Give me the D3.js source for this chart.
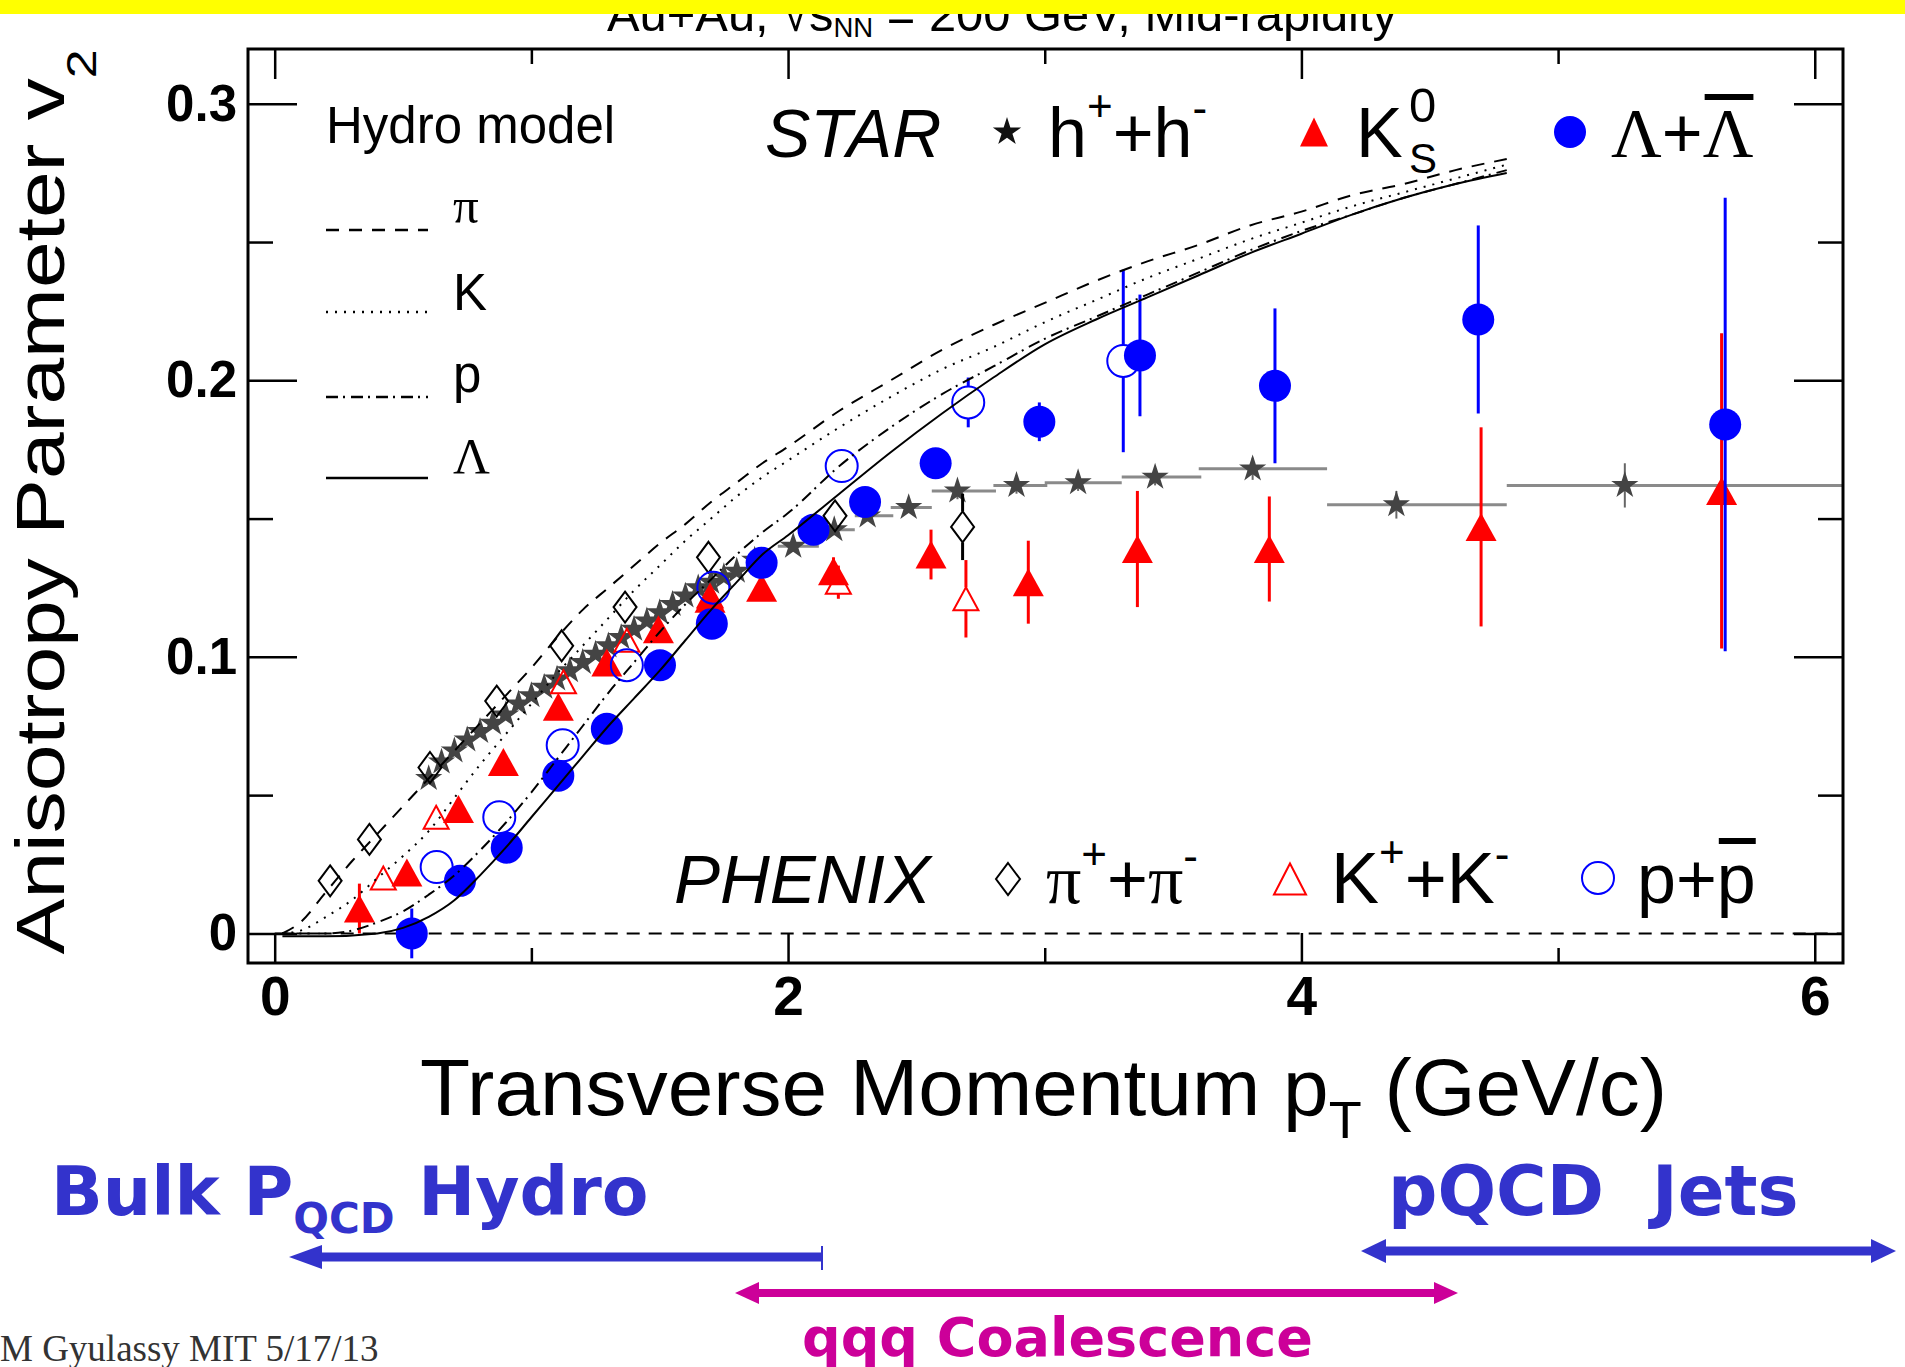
<!DOCTYPE html>
<html><head><meta charset="utf-8">
<script src="https://cdn.jsdelivr.net/npm/d3@7"></script>
<style>
html,body{margin:0;padding:0;background:#fff;}
svg{display:block;}
text{font-family:"Liberation Sans",Arial,Helvetica,sans-serif;}
</style></head><body>
<svg id="chart" width="1905" height="1367"></svg>
<script>
// ---------------- DATA ----------------
const xMajorTicks = [0, 2, 4, 6];
const xMinorTicks = [1, 3, 5];
const yMajorTicks = [0, 0.1, 0.2, 0.3];
const yMinorTicks = [0.05, 0.15, 0.25];

// Hydro model curves [pT, v2]
const hydroPi = [[0.03,0],[0.1,0.004],[0.2,0.015],[0.3,0.026],[0.4,0.036],[0.5,0.046],[0.6,0.056],[0.7,0.066],[0.8,0.076],[0.9,0.086],[1.0,0.096],[1.1,0.107],[1.2,0.117],[1.3,0.125],[1.4,0.133],[1.5,0.141],[1.6,0.148],[1.7,0.156],[1.8,0.163],[1.9,0.170],[2.0,0.176],[2.2,0.189],[2.4,0.200],[2.6,0.211],[2.8,0.220],[3.0,0.228],[3.2,0.236],[3.4,0.243],[3.6,0.249],[3.8,0.256],[4.0,0.261],[4.2,0.267],[4.4,0.271],[4.6,0.276],[4.8,0.280]];
const hydroK = [[0.03,0],[0.1,0.001],[0.2,0.006],[0.3,0.012],[0.4,0.020],[0.5,0.028],[0.6,0.037],[0.7,0.049],[0.8,0.061],[0.9,0.072],[1.0,0.083],[1.1,0.094],[1.2,0.104],[1.3,0.114],[1.4,0.124],[1.5,0.133],[1.6,0.142],[1.7,0.150],[1.8,0.158],[1.9,0.165],[2.0,0.171],[2.2,0.183],[2.4,0.194],[2.6,0.204],[2.8,0.212],[3.0,0.221],[3.2,0.229],[3.4,0.237],[3.6,0.244],[3.8,0.251],[4.0,0.257],[4.2,0.263],[4.4,0.268],[4.6,0.273],[4.8,0.278]];
const hydroP = [[0.03,0],[0.2,0.0],[0.3,0.001],[0.4,0.004],[0.5,0.008],[0.6,0.014],[0.7,0.021],[0.8,0.030],[0.9,0.040],[1.0,0.051],[1.1,0.063],[1.2,0.075],[1.3,0.087],[1.4,0.098],[1.5,0.109],[1.6,0.119],[1.7,0.128],[1.8,0.137],[1.9,0.145],[2.0,0.152],[2.2,0.169],[2.4,0.183],[2.6,0.195],[2.8,0.205],[3.0,0.215],[3.2,0.223],[3.4,0.231],[3.6,0.239],[3.8,0.247],[4.0,0.254],[4.2,0.260],[4.4,0.266],[4.6,0.271],[4.8,0.276]];
const hydroL = [[0.03,-0.001],[0.2,-0.001],[0.4,0.0],[0.5,0.002],[0.6,0.006],[0.7,0.012],[0.8,0.021],[0.9,0.031],[1.0,0.042],[1.1,0.053],[1.2,0.064],[1.3,0.075],[1.4,0.085],[1.5,0.095],[1.6,0.106],[1.7,0.117],[1.8,0.127],[1.9,0.137],[2.0,0.144],[2.2,0.159],[2.4,0.174],[2.6,0.188],[2.8,0.201],[3.0,0.213],[3.2,0.222],[3.4,0.230],[3.6,0.238],[3.8,0.246],[4.0,0.253],[4.2,0.260],[4.4,0.266],[4.6,0.271],[4.8,0.275]];

// STAR h+ + h- : dense low-pT points
const hDensePt = [0.60,0.65,0.70,0.75,0.80,0.85,0.90,0.95,1.00,1.05,1.10,1.15,1.20,1.25,1.30,1.35,1.40,1.45,1.50,1.55,1.60,1.65,1.70,1.75,1.80,1.87];
const hDenseV2 = [0.056,0.062,0.066,0.070,0.073,0.076,0.079,0.083,0.086,0.089,0.092,0.095,0.098,0.101,0.104,0.107,0.110,0.113,0.116,0.119,0.122,0.125,0.127,0.129,0.131,0.135];
// STAR h+ + h- : binned high-pT points
const hBinPt  = [2.02, 2.18, 2.31, 2.47, 2.66, 2.89, 3.13, 3.43, 3.81, 4.37, 5.26];
const hBinV2  = [0.140,0.146,0.151,0.154,0.160,0.162,0.163,0.165,0.168,0.155,0.162];
const hBinLo  = [1.96, 2.12, 2.26, 2.40, 2.56, 2.80, 3.00, 3.30, 3.60, 4.10, 4.80];
const hBinHi  = [2.12, 2.26, 2.41, 2.56, 2.81, 3.01, 3.30, 3.61, 4.10, 4.80, 6.20];
const hBinErr = [0.002,0.002,0.002,0.002,0.003,0.003,0.003,0.003,0.004,0.005,0.008];

// STAR K0S
const k0Pt  = [0.33,0.515,0.716,0.891,1.105,1.294,1.495,1.696,1.897,2.177,2.557,2.936,3.361,3.875,4.70,5.637];
const k0V2  = [0.009,0.022,0.045,0.062,0.082,0.098,0.110,0.121,0.125,0.131,0.137,0.127,0.139,0.139,0.147,0.160];
const k0Err = [0.009,0.003,0.003,0.003,0.003,0.003,0.003,0.004,0.004,0.005,0.009,0.015,0.021,0.019,0.036,0.057];

// STAR Lambda + anti-Lambda
const lamPt  = [0.534,0.722,0.904,1.105,1.294,1.501,1.703,1.897,2.099,2.30,2.575,2.979,3.371,3.897,4.689,5.651];
const lamV2  = [0.000,0.019,0.031,0.057,0.074,0.097,0.112,0.134,0.146,0.156,0.170,0.185,0.209,0.198,0.222,0.184];
const lamErr = [0.009,0.003,0.003,0.003,0.003,0.003,0.003,0.003,0.003,0.004,0.005,0.007,0.022,0.028,0.034,0.082];

// PHENIX pi+ + pi-
const piPt  = [0.216,0.369,0.605,0.865,1.118,1.365,1.69,2.183,2.68];
const piV2  = [0.019,0.034,0.060,0.084,0.104,0.118,0.136,0.151,0.147];
const piErr = [0.001,0.001,0.001,0.001,0.002,0.002,0.003,0.005,0.012];

// PHENIX K+ + K-
const kPt  = [0.423,0.629,1.125,1.372,1.696,2.196,2.693];
const kV2  = [0.020,0.042,0.091,0.106,0.122,0.127,0.121];
const kErr = [0.002,0.002,0.002,0.003,0.004,0.006,0.014];

// PHENIX p + pbar
const pPt  = [0.631,0.875,1.122,1.372,1.709,2.209,2.702,3.306];
const pV2  = [0.024,0.042,0.068,0.097,0.125,0.169,0.192,0.207];
const pErr = [0.002,0.002,0.002,0.003,0.004,0.005,0.009,0.033];

// ---------------- LAYOUT ----------------
const plot = {left:248, right:1843, top:49, bottom:963};
const x = d3.scaleLinear().domain([-0.104, 6.11]).range([plot.left, plot.right]);
const y = d3.scaleLinear().domain([-0.0107, 0.3198]).range([plot.bottom, plot.top]);

const BLUE = '#0000ff', RED = '#ff0000', STARC = '#444444';
const svg = d3.select('#chart');
svg.append('rect').attr('width',1905).attr('height',1367).attr('fill','#fff');

const defs = svg.append('defs');
defs.append('clipPath').attr('id','plotClip').append('rect')
  .attr('x',plot.left).attr('y',plot.top)
  .attr('width',plot.right-plot.left).attr('height',plot.bottom-plot.top);

// symbol types
const triType = (w,h)=>({draw(c){c.moveTo(0,-h/2);c.lineTo(w/2,h/2);c.lineTo(-w/2,h/2);c.closePath();}});
const diaType = (w,h)=>({draw(c){c.moveTo(0,-h/2);c.lineTo(w/2,0);c.lineTo(0,h/2);c.lineTo(-w/2,0);c.closePath();}});
const starSym = d3.symbol(d3.symbolStar, 230);
const starSymLeg = d3.symbol(d3.symbolStar, 250);
const triSym = d3.symbol(triType(31,28));
const triOpenSym = d3.symbol(triType(25,23));
const diaSym = d3.symbol(diaType(23,31));
const circSym = d3.symbol(d3.symbolCircle, Math.PI*16*16);
const circOpenSym = d3.symbol(d3.symbolCircle, Math.PI*16*16);

const g = svg.append('g').attr('clip-path','url(#plotClip)');

// zero line
g.append('line').attr('x1',x(0)).attr('x2',x(6.11)).attr('y1',y(0)).attr('y2',y(0))
  .attr('stroke','#000').attr('stroke-width',2).attr('stroke-dasharray','13,9');

const zip = (pt,v,e)=>pt.map((p,i)=>({pt:p, v:v[i], e:e?e[i]:0}));

// ---- STAR h+h- ----
const hBin = hBinPt.map((p,i)=>({pt:p, v:hBinV2[i], lo:hBinLo[i], hi:hBinHi[i], e:hBinErr[i]}));
g.append('g').selectAll('line').data(hBin).join('line')
  .attr('x1',d=>x(d.lo)).attr('x2',d=>x(d.hi)).attr('y1',d=>y(d.v)).attr('y2',d=>y(d.v))
  .attr('stroke','#8a8a8a').attr('stroke-width',3);
g.append('g').selectAll('line').data(hBin).join('line')
  .attr('x1',d=>x(d.pt)).attr('x2',d=>x(d.pt)).attr('y1',d=>y(d.v+d.e)).attr('y2',d=>y(d.v-d.e))
  .attr('stroke','#666').attr('stroke-width',2);
const hAll = zip(hDensePt,hDenseV2).concat(hBin);
g.append('g').selectAll('path').data(hAll).join('path')
  .attr('d',starSym()).attr('transform',d=>`translate(${x(d.pt)},${y(d.v)})`).attr('fill',STARC);

// ---- STAR K0s ----
const k0 = zip(k0Pt,k0V2,k0Err);
g.append('g').selectAll('line').data(k0).join('line')
  .attr('x1',d=>x(d.pt)).attr('x2',d=>x(d.pt)).attr('y1',d=>y(d.v+d.e)).attr('y2',d=>y(d.v-d.e))
  .attr('stroke',RED).attr('stroke-width',3);
g.append('g').selectAll('path').data(k0).join('path')
  .attr('d',triSym()).attr('transform',d=>`translate(${x(d.pt)},${y(d.v)})`).attr('fill',RED);

// ---- STAR Lambda ----
const lam = zip(lamPt,lamV2,lamErr);
g.append('g').selectAll('line').data(lam).join('line')
  .attr('x1',d=>x(d.pt)).attr('x2',d=>x(d.pt)).attr('y1',d=>y(d.v+d.e)).attr('y2',d=>y(d.v-d.e))
  .attr('stroke',BLUE).attr('stroke-width',3);
g.append('g').selectAll('path').data(lam).join('path')
  .attr('d',circSym()).attr('transform',d=>`translate(${x(d.pt)},${y(d.v)})`).attr('fill',BLUE);

// open markers: error bars outside marker only
function openErr(data, half, color){
  const segs = [];
  data.forEach(d=>{
    const yc = y(d.v), yt = y(d.v+d.e), yb = y(d.v-d.e);
    if (yt < yc-half) segs.push({x:x(d.pt), y1:yt, y2:yc-half});
    if (yb > yc+half) segs.push({x:x(d.pt), y1:yc+half, y2:yb});
  });
  g.append('g').selectAll('line').data(segs).join('line')
    .attr('x1',s=>s.x).attr('x2',s=>s.x).attr('y1',s=>s.y1).attr('y2',s=>s.y2)
    .attr('stroke',color).attr('stroke-width',3);
}
const pi = zip(piPt,piV2,piErr);
openErr(pi,15.5,'#000');
g.append('g').selectAll('path').data(pi).join('path')
  .attr('d',diaSym()).attr('transform',d=>`translate(${x(d.pt)},${y(d.v)})`)
  .attr('fill','none').attr('stroke','#000').attr('stroke-width',2);
const kk = zip(kPt,kV2,kErr);
openErr(kk,11.5,RED);
g.append('g').selectAll('path').data(kk).join('path')
  .attr('d',triOpenSym()).attr('transform',d=>`translate(${x(d.pt)},${y(d.v)})`)
  .attr('fill','none').attr('stroke',RED).attr('stroke-width',2);
const pp = zip(pPt,pV2,pErr);
openErr(pp,16,BLUE);
g.append('g').selectAll('path').data(pp).join('path')
  .attr('d',circOpenSym()).attr('transform',d=>`translate(${x(d.pt)},${y(d.v)})`)
  .attr('fill','none').attr('stroke',BLUE).attr('stroke-width',2);

// ---- Hydro curves ----
const line = d3.line().x(d=>x(d[0])).y(d=>y(d[1])).curve(d3.curveMonotoneX);
const curves = [
  {data:hydroPi, dash:'13,10'},
  {data:hydroK,  dash:'2,7'},
  {data:hydroP,  dash:'12,5,2,6'},
  {data:hydroL,  dash:null}
];
g.append('g').selectAll('path').data(curves).join('path')
  .attr('d',d=>line(d.data)).attr('fill','none').attr('stroke','#000')
  .attr('stroke-width',2).attr('stroke-dasharray',d=>d.dash);

// ---------------- AXES / FRAME ----------------
const FONT = '"Liberation Sans",Arial,Helvetica,sans-serif';
function styleAxis(sel, fs){
  sel.select('.domain').remove();
  sel.selectAll('.tick line').attr('stroke','#000').attr('stroke-width',2.5);
  sel.selectAll('.tick text').attr('font-family',FONT).attr('font-weight','bold')
    .attr('font-size',fs).attr('fill','#000');
}
const fmtY = d=> d===0 ? '0' : d3.format('.1f')(d);
svg.append('g').attr('transform',`translate(0,${plot.bottom})`)
  .call(d3.axisBottom(x).tickValues(xMajorTicks).tickSize(-30).tickPadding(13).tickFormat(d3.format('d')))
  .call(s=>styleAxis(s,55));
svg.append('g').attr('transform',`translate(0,${plot.bottom})`)
  .call(d3.axisBottom(x).tickValues(xMinorTicks).tickSize(-15).tickFormat(''))
  .call(s=>styleAxis(s,55));
svg.append('g').attr('transform',`translate(0,${plot.top})`)
  .call(d3.axisTop(x).tickValues(xMajorTicks).tickSize(-30).tickFormat(''))
  .call(s=>styleAxis(s,55));
svg.append('g').attr('transform',`translate(0,${plot.top})`)
  .call(d3.axisTop(x).tickValues(xMinorTicks).tickSize(-15).tickFormat(''))
  .call(s=>styleAxis(s,55));
svg.append('g').attr('transform',`translate(${plot.left},0)`)
  .call(d3.axisLeft(y).tickValues(yMajorTicks).tickSize(-49).tickPadding(11).tickFormat(fmtY))
  .call(s=>styleAxis(s,51));
svg.append('g').attr('transform',`translate(${plot.left},0)`)
  .call(d3.axisLeft(y).tickValues(yMinorTicks).tickSize(-25).tickFormat(''))
  .call(s=>styleAxis(s,51));
svg.append('g').attr('transform',`translate(${plot.right},0)`)
  .call(d3.axisRight(y).tickValues(yMajorTicks).tickSize(-49).tickFormat(''))
  .call(s=>styleAxis(s,51));
svg.append('g').attr('transform',`translate(${plot.right},0)`)
  .call(d3.axisRight(y).tickValues(yMinorTicks).tickSize(-25).tickFormat(''))
  .call(s=>styleAxis(s,51));
svg.append('rect').attr('x',plot.left).attr('y',plot.top)
  .attr('width',plot.right-plot.left).attr('height',plot.bottom-plot.top)
  .attr('fill','none').attr('stroke','#000').attr('stroke-width',3);

// ---------------- AXIS TITLES ----------------
const xt = svg.append('text').attr('x',420).attr('y',1115).attr('font-size',79)
  .attr('textLength',1247).attr('lengthAdjust','spacingAndGlyphs').attr('fill','#000');
xt.append('tspan').text('Transverse Momentum p');
xt.append('tspan').attr('font-size',52).attr('dy',23).text('T');
xt.append('tspan').attr('dy',-23).text(' (GeV/c)');

const yt = svg.append('text').attr('transform','translate(64,502) rotate(-90)')
  .attr('text-anchor','middle').attr('font-size',68)
  .attr('textLength',905).attr('lengthAdjust','spacingAndGlyphs').attr('fill','#000');
yt.append('tspan').text('Anisotropy Parameter v');
yt.append('tspan').attr('font-size',42).attr('dy',32).text('2');

// ---------------- TITLE (partly hidden) ----------------
const tt = svg.append('text').attr('x',1002).attr('y',31).attr('text-anchor','middle')
  .attr('font-size',48).attr('textLength',790).attr('lengthAdjust','spacingAndGlyphs').attr('fill','#000');
tt.append('tspan').text('Au+Au, \u221As');
tt.append('tspan').attr('font-size',27).attr('dy',6).text('NN');
tt.append('tspan').attr('dy',-6).text(' = 200 GeV, Mid-rapidity');
svg.append('rect').attr('x',0).attr('y',0).attr('width',1905).attr('height',14).attr('fill','#ffff00');

// ---------------- HYDRO LEGEND ----------------
svg.append('text').attr('x',326).attr('y',143).attr('font-size',51).text('Hydro model');
const hydroLeg = [
  {y:230, dash:'13,10', label:'\u03C0', serif:true, ty:223},
  {y:312, dash:'2,7', label:'K', serif:false, ty:310},
  {y:397, dash:'12,5,2,6', label:'p', serif:false, ty:392},
  {y:478, dash:null, label:'\u039B', serif:true, ty:473}
];
hydroLeg.forEach(d=>{
  svg.append('line').attr('x1',326).attr('x2',428).attr('y1',d.y).attr('y2',d.y)
    .attr('stroke','#000').attr('stroke-width',2.5).attr('stroke-dasharray',d.dash);
  svg.append('text').attr('x',453).attr('y',d.ty).attr('font-size',51)
    .style('font-family',d.serif?'"Liberation Serif","Times New Roman",serif':FONT).text(d.label);
});

// ---------------- STAR LEGEND ----------------
const SERIF = '"Liberation Serif","Times New Roman",serif';
svg.append('text').attr('x',765).attr('y',157).attr('font-size',68).attr('font-style','italic').text('STAR');
svg.append('path').attr('d',starSymLeg()).attr('transform','translate(1007,132)').attr('fill','#111');
const th = svg.append('text').attr('x',1048).attr('y',157).attr('font-size',70);
th.append('tspan').text('h');
th.append('tspan').attr('font-size',44).attr('dy',-36).text('+');
th.append('tspan').attr('dy',36).text('+');
th.append('tspan').text('h');
th.append('tspan').attr('font-size',44).attr('dy',-34).text('-');

svg.append('path').attr('d',d3.symbol(triType(28,29))()).attr('transform','translate(1314,132)').attr('fill',RED);
svg.append('text').attr('x',1356).attr('y',157).attr('font-size',70).text('K');
svg.append('text').attr('x',1409).attr('y',122).attr('font-size',49).text('0');
svg.append('text').attr('x',1409).attr('y',173).attr('font-size',42).text('S');

svg.append('path').attr('d',d3.symbol(d3.symbolCircle, Math.PI*16*16)()).attr('transform','translate(1570,132)').attr('fill',BLUE);
const tl = svg.append('text').attr('x',1611).attr('y',157).attr('font-size',70);
tl.append('tspan').style('font-family',SERIF).text('\u039B');
tl.append('tspan').text('+');
tl.append('tspan').style('font-family',SERIF).text('\u039B');
{
  const ext = tl.node().getExtentOfChar(2);
  svg.append('line').attr('x1',ext.x+2).attr('x2',ext.x+ext.width).attr('y1',97).attr('y2',97)
    .attr('stroke','#000').attr('stroke-width',6);
}

// ---------------- PHENIX LEGEND ----------------
svg.append('text').attr('x',674).attr('y',903).attr('font-size',69).attr('font-style','italic').text('PHENIX');
svg.append('path').attr('d',d3.symbol(diaType(24,32))()).attr('transform','translate(1008,879)')
  .attr('fill','none').attr('stroke','#000').attr('stroke-width',2);
const tpi = svg.append('text').attr('x',1046).attr('y',903).attr('font-size',70);
tpi.append('tspan').style('font-family',SERIF).text('\u03C0');
tpi.append('tspan').attr('font-size',44).attr('dy',-34).text('+');
tpi.append('tspan').attr('dy',34).text('+');
tpi.append('tspan').style('font-family',SERIF).text('\u03C0');
tpi.append('tspan').attr('font-size',44).attr('dy',-32).text('-');

svg.append('path').attr('d',d3.symbol(triType(32,31))()).attr('transform','translate(1290,879)')
  .attr('fill','none').attr('stroke',RED).attr('stroke-width',2);
const tk = svg.append('text').attr('x',1331).attr('y',903).attr('font-size',72);
tk.append('tspan').text('K');
tk.append('tspan').attr('font-size',44).attr('dy',-36).text('+');
tk.append('tspan').attr('dy',36).text('+');
tk.append('tspan').text('K');
tk.append('tspan').attr('font-size',44).attr('dy',-34).text('-');

svg.append('path').attr('d',d3.symbol(d3.symbolCircle, Math.PI*16*16)()).attr('transform','translate(1598,878)')
  .attr('fill','none').attr('stroke',BLUE).attr('stroke-width',2);
const tp = svg.append('text').attr('x',1637).attr('y',903).attr('font-size',70);
tp.append('tspan').text('p+p');
{
  const ext = tp.node().getExtentOfChar(2);
  svg.append('line').attr('x1',ext.x+2).attr('x2',ext.x+ext.width).attr('y1',841).attr('y2',841)
    .attr('stroke','#000').attr('stroke-width',6);
}

// ---------------- BOTTOM ANNOTATIONS ----------------
const ANNB = '#3333cc', ANNM = '#cc0099';
const DJ = '"DejaVu Sans",Verdana,sans-serif';
const tb = svg.append('text').attr('x',51).attr('y',1215).attr('font-size',68)
  .attr('font-weight','bold').attr('fill',ANNB).style('font-family',DJ);
tb.append('tspan').text('Bulk P');
tb.append('tspan').attr('font-size',42).attr('dy',18).text('QCD');
tb.append('tspan').attr('dy',-18).text(' Hydro');
svg.append('text').attr('x',1388).attr('y',1215).attr('font-size',69)
  .attr('font-weight','bold').attr('fill',ANNB).style('font-family',DJ)
  .style('white-space','pre').text('pQCD  Jets');
svg.append('text').attr('x',802).attr('y',1356).attr('font-size',54)
  .attr('font-weight','bold').attr('fill',ANNM).style('font-family',DJ).text('qqq Coalescence');
svg.append('text').attr('x',0).attr('y',1361).attr('font-size',37).attr('fill','#333')
  .style('font-family',SERIF).text('M Gyulassy MIT 5/17/13');

function arrow(x1, x2, yc, th, headL, headR, hl, hh, color){
  svg.append('line').attr('x1',x1+(headL?hl-2:0)).attr('x2',x2-(headR?hl-2:0)).attr('y1',yc).attr('y2',yc)
    .attr('stroke',color).attr('stroke-width',th);
  if (headL) svg.append('path').attr('d',`M${x1},${yc}L${x1+hl},${yc-hh}L${x1+hl},${yc+hh}Z`).attr('fill',color);
  if (headR) svg.append('path').attr('d',`M${x2},${yc}L${x2-hl},${yc-hh}L${x2-hl},${yc+hh}Z`).attr('fill',color);
}
arrow(289, 822, 1257, 9, true, false, 33, 12, ANNB);
svg.append('line').attr('x1',822).attr('x2',822).attr('y1',1246).attr('y2',1270).attr('stroke',ANNB).attr('stroke-width',2);
arrow(1361, 1896, 1251, 9, true, true, 25, 12, ANNB);
arrow(735, 1458, 1293, 8, true, true, 24, 11, ANNM);
</script>
</body></html>
